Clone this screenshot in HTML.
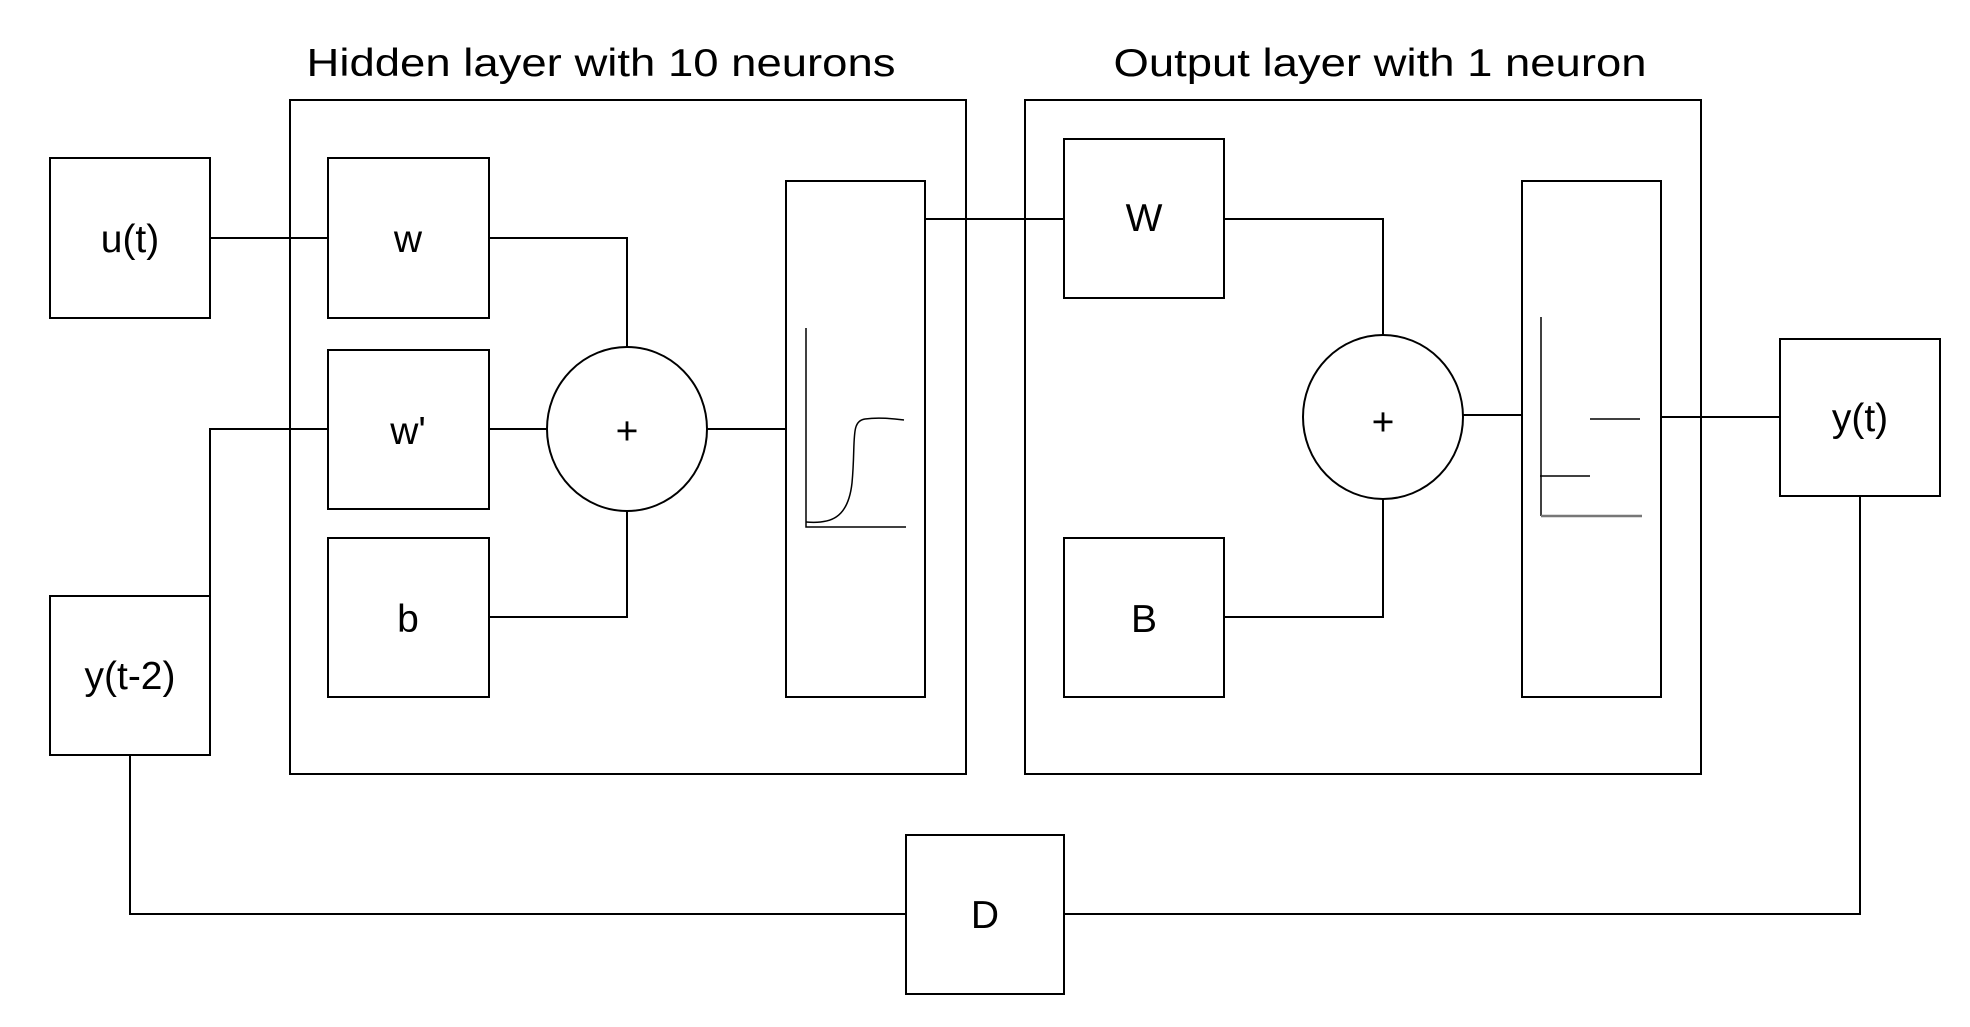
<!DOCTYPE html>
<html><head><meta charset="utf-8"><style>html,body{margin:0;padding:0;background:#fff}svg{display:block}</style></head>
<body>
<svg width="1970" height="1027" viewBox="0 0 1970 1027" xmlns="http://www.w3.org/2000/svg" font-family="Liberation Sans, Arial, sans-serif">
<g fill="none" stroke="#000" stroke-width="2">
<rect x="290" y="100" width="676" height="674"/>
<rect x="1025" y="100" width="676" height="674"/>
<rect x="50" y="158" width="160" height="160"/>
<rect x="50" y="596" width="160" height="159"/>
<rect x="328" y="158" width="161" height="160"/>
<rect x="328" y="350" width="161" height="159"/>
<rect x="328" y="538" width="161" height="159"/>
<ellipse cx="627" cy="429" rx="80" ry="82"/>
<rect x="786" y="181" width="139" height="516"/>
<rect x="1064" y="139" width="160" height="159"/>
<rect x="1064" y="538" width="160" height="159"/>
<ellipse cx="1383" cy="417" rx="80" ry="82"/>
<rect x="1522" y="181" width="139" height="516"/>
<rect x="1780" y="339" width="160" height="157"/>
<rect x="906" y="835" width="158" height="159"/>
<path d="M210 238H328"/>
<path d="M210 596V429H328"/>
<path d="M489 429H547"/>
<path d="M489 238H627V347"/>
<path d="M489 617H627V511"/>
<path d="M707 429H786"/>
<path d="M925 219H1064"/>
<path d="M1224 219H1383V335"/>
<path d="M1224 617H1383V499"/>
<path d="M1463 415H1522"/>
<path d="M1661 417H1780"/>
<path d="M1860 496V914H1064"/>
<path d="M130 755V914H906"/>
<path d="M806 328V527H906" stroke-width="1.5"/>
<path d="M806 522C830 524 848 519 852 483C856 441 850 421 865 419C880 417 895 419 904 420" stroke-width="1.5"/>
<path d="M1541 317V516" stroke-width="1.5"/>
<path d="M1541 516H1642" stroke="#777" stroke-width="2.5"/>
<path d="M1540 476H1590M1590 419H1640" stroke-width="1.5"/>
</g>
<g font-size="39" text-anchor="middle" fill="#000">
<text x="601" y="76" textLength="589" lengthAdjust="spacingAndGlyphs">Hidden layer with 10 neurons</text>
<text x="1380" y="76" textLength="533" lengthAdjust="spacingAndGlyphs">Output layer with 1 neuron</text>
<text x="130" y="252">u(t)</text>
<text x="130" y="689">y(t-2)</text>
<text x="408" y="252">w</text>
<text x="408" y="444">w'</text>
<text x="408" y="632">b</text>
<text x="627" y="444">+</text>
<text x="1144" y="231">W</text>
<text x="1144" y="632">B</text>
<text x="1383" y="435">+</text>
<text x="1860" y="431">y(t)</text>
<text x="985" y="928">D</text>
</g>
</svg>
</body></html>
